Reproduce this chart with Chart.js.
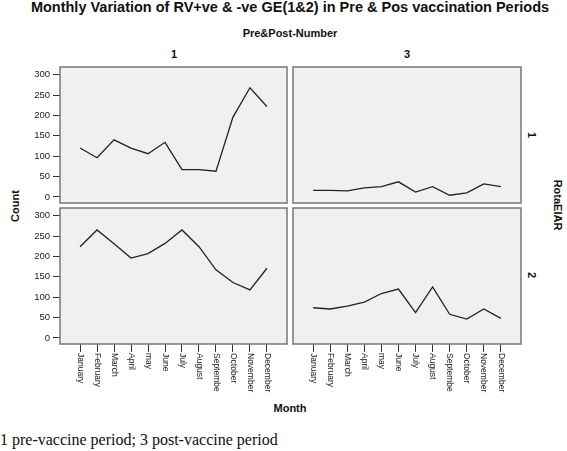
<!DOCTYPE html>
<html>
<head>
<meta charset="utf-8">
<script src="https://cdn.jsdelivr.net/npm/chart.js@4.4.0/dist/chart.umd.min.js"></script>
<style>
  body { margin: 0; background: #fff; }
  #wrap { position: relative; width: 567px; height: 451px; overflow: hidden; background: #fff;
          font-family: "Liberation Sans", Arial, sans-serif; color: #111; }
  .lbl { position: absolute; white-space: nowrap; font-weight: bold; font-size: 11px; line-height: 1; }
  canvas { position: absolute; }
</style>
</head>
<body>
<div id="wrap">
  <div class="lbl" style="left:290px;top:7px;font-size:14.5px;transform:translate(-50%,-50%)">Monthly Variation of RV+ve &amp; -ve GE(1&amp;2) in Pre &amp; Pos vaccination Periods</div>
  <div class="lbl" style="left:290px;top:33px;transform:translate(-50%,-50%)">Pre&amp;Post-Number</div>
  <div class="lbl" style="left:174px;top:54px;transform:translate(-50%,-50%)">1</div>
  <div class="lbl" style="left:407px;top:54px;transform:translate(-50%,-50%)">3</div>
  <div class="lbl" style="left:531px;top:135px;transform:translate(-50%,-50%) rotate(90deg)">1</div>
  <div class="lbl" style="left:531px;top:275px;transform:translate(-50%,-50%) rotate(90deg)">2</div>
  <div class="lbl" style="left:557px;top:205px;transform:translate(-50%,-50%) rotate(90deg)">RotaEIAR</div>
  <div class="lbl" style="left:15px;top:206px;transform:translate(-50%,-50%) rotate(-90deg)">Count</div>
  <div class="lbl" style="left:290px;top:408px;transform:translate(-50%,-50%)">Month</div>
  <div class="lbl" style="left:0;top:440px;font-weight:normal;font-size:16px;font-family:'Liberation Serif','Times New Roman',serif;transform:translate(0,-50%)">1 pre-vaccine period; 3 post-vaccine period</div>

  <canvas id="c11" width="290" height="146" style="left:0;top:60px"></canvas>
  <canvas id="c13" width="234" height="146" style="left:290px;top:60px"></canvas>
  <canvas id="c21" width="290" height="205" style="left:0;top:200px"></canvas>
  <canvas id="c23" width="234" height="205" style="left:290px;top:200px"></canvas>
</div>

<script>
// month tick labels (as printed in the original, incl. "may" and "Septembe")
const months = ['January', 'February', 'March', 'April', 'may', 'June', 'July',
  'August', 'Septembe', 'October', 'November', 'December'];
const yTicks = [0, 50, 100, 150, 200, 250, 300];

// RotaEIAR = 1
const pre1 = [120, 96, 140, 120, 106, 134, 67, 67, 63, 196, 268, 222];
const post1 = [16, 16, 15, 22, 25, 37, 12, 25, 4, 10, 32, 25];
// RotaEIAR = 2
const pre2 = [224, 265, 231, 196, 207, 232, 265, 224, 167, 136, 118, 171];
const post2 = [74, 71, 78, 88, 109, 120, 62, 125, 58, 46, 71, 48];

const FONT = '"Liberation Sans", Arial, sans-serif';

// grey panel with a frame
const panelFrame = {
  id: 'panelFrame',
  beforeDraw(chart) {
    const { ctx, chartArea: a } = chart;
    ctx.save();
    ctx.fillStyle = '#f0f0f0';
    ctx.fillRect(a.left, a.top, a.right - a.left, a.bottom - a.top);
    ctx.restore();
  },
  afterDraw(chart) {
    const { ctx, chartArea: a } = chart;
    ctx.save();
    ctx.strokeStyle = '#777';
    ctx.lineWidth = 1.5;
    ctx.strokeRect(a.left, a.top, a.right - a.left, a.bottom - a.top);
    ctx.restore();
  }
};

// month labels rotated clockwise (read top to bottom)
const monthLabels = {
  id: 'monthLabels',
  afterDraw(chart) {
    const xs = chart.scales.x;
    if (!xs.options.display) return;
    const ctx = chart.ctx;
    ctx.save();
    ctx.font = '8.5px ' + FONT;
    ctx.fillStyle = '#222';
    ctx.textAlign = 'left';
    ctx.textBaseline = 'middle';
    months.forEach((m, i) => {
      const x = xs.getPixelForValue(i);
      ctx.save();
      ctx.translate(x, chart.chartArea.bottom + 9);
      ctx.rotate(Math.PI / 2);
      ctx.fillText(m, 0, 0);
      ctx.restore();
    });
    ctx.restore();
  }
};

function makePanel(canvasId, values, showY, showX, padding) {
  const canvas = document.getElementById(canvasId);
  return new Chart(canvas, {
    type: 'line',
    data: {
      datasets: [{
        data: values.map((v, i) => ({ x: i, y: v })),
        borderColor: '#222',
        borderWidth: 1.3,
        pointRadius: 0,
        tension: 0,
        fill: false
      }]
    },
    options: {
      responsive: false,
      animation: false,
      layout: { padding },
      plugins: { legend: { display: false }, tooltip: { enabled: false } },
      scales: {
        x: {
          type: 'linear',
          display: showX,
          min: -1.18,
          max: 12.18,
          afterBuildTicks: s => { s.ticks = months.map((m, i) => ({ value: i })); },
          afterFit: s => {
            s.height = showX ? 8 : 0;
            s.paddingLeft = s.paddingRight = 0;
          },
          ticks: { display: false },
          grid: { drawOnChartArea: false, drawTicks: true, tickLength: 8, color: '#333' },
          border: { display: false }
        },
        y: {
          display: showY,
          min: -15,
          max: 319,
          afterBuildTicks: s => { s.ticks = yTicks.map(v => ({ value: v })); },
          afterFit: s => {
            s.width = showY ? 60 : 0;
            // labels sit inside the range, no extra room needed
            s.paddingTop = s.paddingBottom = 0;
          },
          ticks: { color: '#222', font: { family: FONT, size: 9.5 }, padding: 3 },
          grid: { drawOnChartArea: false, drawTicks: true, tickLength: 7, color: '#333' },
          border: { display: false }
        }
      }
    },
    plugins: [panelFrame, monthLabels]
  });
}

makePanel('c11', pre1, true, false, { top: 7, right: 3, bottom: 3, left: 0 });
makePanel('c13', post1, false, false, { top: 7, right: 3, bottom: 3, left: 3 });
makePanel('c21', pre2, true, true, { top: 8, right: 3, bottom: 53, left: 0 });
makePanel('c23', post2, false, true, { top: 8, right: 3, bottom: 53, left: 3 });
</script>
</body>
</html>
